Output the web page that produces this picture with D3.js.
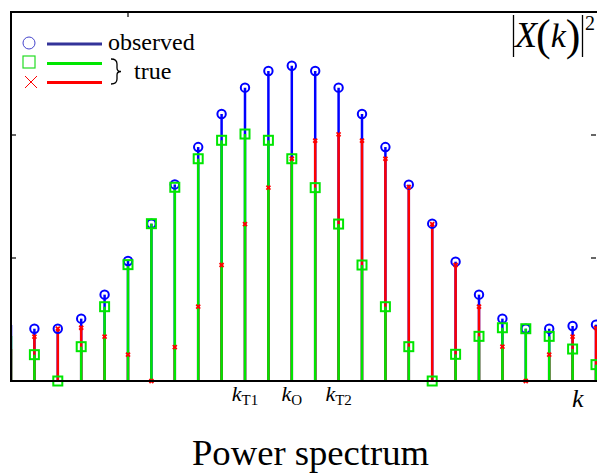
<!DOCTYPE html>
<html>
<head>
<meta charset="utf-8">
<script src="https://cdn.jsdelivr.net/npm/d3@7"></script>
<style>
  html, body { margin: 0; padding: 0; background: #fff; }
  svg { display: block; }
  text { font-family: "Liberation Serif", "Times New Roman", serif; fill: #000; }
</style>
</head>
<body>
<svg id="chart" width="597" height="473"></svg>
<script>
// ---- data ----
const kIndex = d3.range(0, 26);
const observed = [0.455, 0.425, 0.425, 0.507, 0.702, 0.976, 1.279, 1.598, 1.902, 2.171, 2.385, 2.520, 2.563,
                  2.520, 2.385, 2.171, 1.902, 1.596, 1.279, 0.970, 0.702, 0.507, 0.425, 0.425, 0.447, 0.458];
const trueGreen = [0.366, 0.214, 0.000, 0.279, 0.604, 0.946, 1.279, 1.575, 1.807, 1.957, 2.008, 1.957, 1.807,
                   1.572, 1.276, 0.943, 0.604, 0.279, 0.000, 0.217, 0.363, 0.433, 0.425, 0.363, 0.260, 0.133];
const trueRed = [0.260, 0.360, 0.425, 0.433, 0.360, 0.214, 0.000, 0.276, 0.604, 0.943, 1.276, 1.572, 1.807,
                 1.954, 2.006, 1.954, 1.807, 1.577, 1.276, 0.943, 0.604, 0.279, 0.000, 0.214, 0.360, 0.431];
const xTickLabels = [{k: 10, main: "k", sub: "T1"}, {k: 12, main: "k", sub: "O"}, {k: 14, main: "k", sub: "T2"}];
const yTicks = [1, 2];
const topTicks = [5];
const legendItems = ["observed", "true"];

// ---- layout ----
const svg = d3.select("#chart");
const pL = 11, pR = 596, pT = 12, pB = 381;
const x = d3.scaleLinear().domain([0, 25]).range([pL, pR]);
const y = d3.scaleLinear().domain([0, 3]).range([pB, pT]);

const BLUE = "#0000ff", GREEN = "#00e600", RED = "#ff0000";

const rows = kIndex.map((k, i) => ({k, obs: observed[i], g: trueGreen[i], r: trueRed[i]}));

svg.append("defs").append("clipPath").attr("id", "plotclip")
  .append("rect").attr("x", pL).attr("y", 0).attr("width", 600).attr("height", 473);

const plot = svg.append("g").attr("clip-path", "url(#plotclip)");

function stems(key, color) {
  plot.append("g").selectAll("line").data(rows).join("line")
    .attr("x1", d => x(d.k)).attr("x2", d => x(d.k))
    .attr("y1", y(0)).attr("y2", d => y(d[key]))
    .attr("stroke", color).attr("stroke-width", 2.5);
}
stems("obs", BLUE);
stems("r", RED);
stems("g", GREEN);

// markers outside the x limits are not drawn (first sample)
const visible = rows.filter(d => d.k > 0);
plot.append("g").selectAll("circle").data(visible).join("circle")
  .attr("cx", d => x(d.k)).attr("cy", d => y(d.obs)).attr("r", 4.2)
  .attr("fill", "none").attr("stroke", BLUE).attr("stroke-width", 2);
plot.append("g").selectAll("rect").data(visible).join("rect")
  .attr("x", d => x(d.k) - 4.5).attr("y", d => y(d.g) - 4.5).attr("width", 9).attr("height", 9)
  .attr("fill", "none").attr("stroke", GREEN).attr("stroke-width", 2);
plot.append("g").selectAll("path").data(visible).join("path")
  .attr("transform", d => `translate(${x(d.k)},${y(d.r)})`)
  .attr("d", "M-2,-2L2,2M-2,2L2,-2")
  .attr("fill", "none").attr("stroke", RED).attr("stroke-width", 1.8);

// ---- frame and ticks ----
svg.append("rect").attr("x", pL).attr("y", pT).attr("width", pR - pL + 4).attr("height", pB - pT)
  .attr("fill", "none").attr("stroke", "#000").attr("stroke-width", 2);
svg.append("line").attr("x1", pL).attr("x2", 597).attr("y1", pB).attr("y2", pB)
  .attr("stroke", "#000").attr("stroke-width", 2.2);
yTicks.forEach(v => {
  svg.append("line").attr("x1", pL).attr("x2", pL + 5).attr("y1", y(v)).attr("y2", y(v)).attr("stroke", "#000").attr("stroke-width", 1.2);
  svg.append("line").attr("x1", pR - 5).attr("x2", pR).attr("y1", y(v)).attr("y2", y(v)).attr("stroke", "#000").attr("stroke-width", 1.2);
});
topTicks.forEach(k => {
  svg.append("line").attr("x1", x(k)).attr("x2", x(k)).attr("y1", pT).attr("y2", pT + 5).attr("stroke", "#000").attr("stroke-width", 1.2);
});

// ---- x labels ----
xTickLabels.forEach(t => {
  const tx = svg.append("text").attr("x", x(t.k)).attr("y", 401).attr("text-anchor", "middle");
  tx.append("tspan").attr("font-style", "italic").attr("font-size", 22).text(t.main);
  tx.append("tspan").attr("font-size", 15).attr("dy", 4).text(t.sub);
});
svg.append("text").attr("x", 572).attr("y", 407).attr("font-style", "italic").attr("font-size", 26).text("k");
svg.append("text").attr("x", 192).attr("y", 465).attr("font-size", 35).attr("textLength", 237)
  .attr("lengthAdjust", "spacingAndGlyphs").text("Power spectrum");

// ---- |X(k)|^2 ----
const lab = svg.append("g");
lab.append("line").attr("x1", 513.5).attr("x2", 513.5).attr("y1", 15).attr("y2", 57).attr("stroke", "#000").attr("stroke-width", 1.3);
lab.append("line").attr("x1", 582.5).attr("x2", 582.5).attr("y1", 15).attr("y2", 57).attr("stroke", "#000").attr("stroke-width", 1.3);
const xk = lab.append("text").attr("x", 515).attr("y", 47);
xk.append("tspan").attr("font-style", "italic").attr("font-size", 36).text("X");
xk.append("tspan").attr("font-size", 44).attr("dy", 3).attr("dx", -1).text("(");
xk.append("tspan").attr("font-style", "italic").attr("font-size", 34).attr("dy", -3).text("k");
xk.append("tspan").attr("font-size", 44).attr("dy", 3).text(")");
lab.append("text").attr("x", 585).attr("y", 30).attr("font-size", 20).text("2");

// ---- legend ----
const lg = svg.append("g");
lg.append("circle").attr("cx", 29).attr("cy", 43).attr("r", 6).attr("fill", "none").attr("stroke", "#4444cc").attr("stroke-width", 1);
lg.append("line").attr("x1", 47).attr("x2", 102).attr("y1", 44).attr("y2", 44).attr("stroke", "#333399").attr("stroke-width", 3);
lg.append("text").attr("x", 108).attr("y", 50).attr("font-size", 24).text(legendItems[0]);
lg.append("rect").attr("x", 23).attr("y", 56).attr("width", 12).attr("height", 12).attr("fill", "none").attr("stroke", "#22dd22").attr("stroke-width", 1.2);
lg.append("line").attr("x1", 47).attr("x2", 102).attr("y1", 63.5).attr("y2", 63.5).attr("stroke", GREEN).attr("stroke-width", 3);
lg.append("path").attr("transform", "translate(31,82)").attr("d", "M-6,-6L6,6M-6,6L6,-6").attr("fill", "none").attr("stroke", RED).attr("stroke-width", 1);
lg.append("line").attr("x1", 47).attr("x2", 102).attr("y1", 82.5).attr("y2", 82.5).attr("stroke", RED).attr("stroke-width", 3);
lg.append("path")
  .attr("d", "M111,59 Q117,59 117,64 L117,68 Q117,71.5 121,71.5 Q117,71.5 117,75 L117,79 Q117,84 111,84")
  .attr("fill", "none").attr("stroke", "#000").attr("stroke-width", 1.3);
lg.append("text").attr("x", 134).attr("y", 79).attr("font-size", 24).text(legendItems[1]);
</script>
</body>
</html>
